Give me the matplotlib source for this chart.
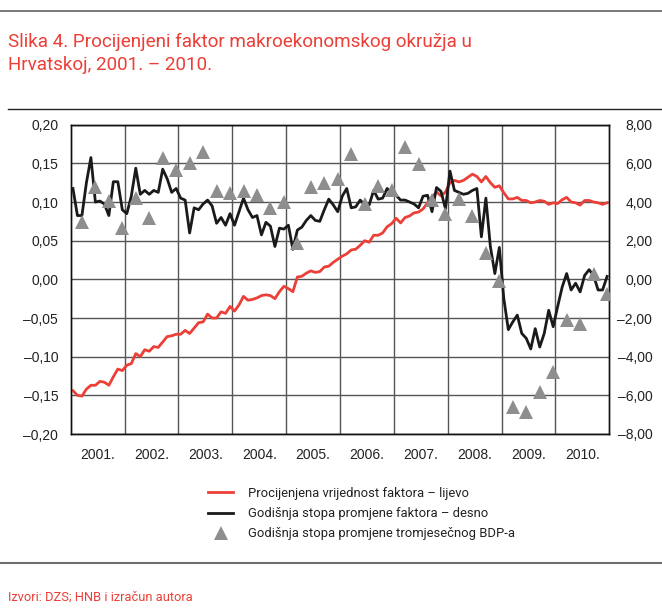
import numpy as np
import matplotlib
matplotlib.use("Agg")
import matplotlib.pyplot as plt
from matplotlib.lines import Line2D

# ---------------- data ----------------
years = list(range(2001, 2011))
year_labels = [f"{y}." for y in years]

# estimated factor value (left axis), monthly 2001-2010
factor_level = [
    -0.144, -0.150, -0.151, -0.142, -0.137, -0.137, -0.132, -0.133, -0.137, -0.126, -0.116, -0.118,
    -0.111, -0.109, -0.096, -0.100, -0.091, -0.093, -0.087, -0.088, -0.081, -0.074, -0.073, -0.071,
    -0.071, -0.066, -0.070, -0.063, -0.056, -0.055, -0.045, -0.050, -0.050, -0.042, -0.044, -0.035,
    -0.041, -0.033, -0.022, -0.027, -0.026, -0.024, -0.021, -0.020, -0.021, -0.025, -0.016, -0.009,
    -0.012, -0.016, 0.003, 0.004, 0.008, 0.011, 0.009, 0.010, 0.016, 0.017, 0.022, 0.026,
    0.030, 0.033, 0.038, 0.039, 0.044, 0.050, 0.048, 0.057, 0.057, 0.060, 0.068, 0.072,
    0.079, 0.073, 0.080, 0.082, 0.086, 0.087, 0.091, 0.099, 0.106, 0.113, 0.108, 0.113,
    0.125, 0.128, 0.126, 0.128, 0.132, 0.136, 0.133, 0.126, 0.133, 0.125, 0.119, 0.121,
    0.112, 0.104, 0.104, 0.106, 0.102, 0.102, 0.099, 0.100, 0.102, 0.101, 0.097, 0.099,
    0.098, 0.103, 0.106, 0.100, 0.099, 0.096, 0.102, 0.102, 0.100, 0.099, 0.097, 0.099,
]

# annual rate of change of the factor (right axis), monthly
factor_growth = [
    4.7, 3.3, 3.3, 5.0, 6.3, 4.0, 4.05, 3.9, 3.3, 5.05, 5.05, 3.6,
    3.4, 4.3, 5.75, 4.4, 4.6, 4.4, 4.6, 4.5, 5.7, 5.2, 4.5, 4.7,
    4.2, 4.1, 2.4, 3.7, 3.6, 3.9, 4.1, 3.8, 2.9, 3.2, 2.8, 3.4,
    2.8, 3.5, 4.2, 3.6, 3.2, 3.3, 2.3, 2.95, 2.75, 1.7, 2.65, 2.6,
    2.8, 1.55, 2.55, 2.7, 3.05, 3.3, 3.05, 3.0, 3.6, 4.15, 3.85, 3.5,
    4.3, 4.7, 3.7, 3.75, 4.1, 3.85, 3.85, 4.6, 4.15, 4.2, 4.7, 4.45,
    4.35, 4.1, 4.1, 4.0, 3.9, 3.7, 4.3, 4.35, 3.5, 4.75, 4.55, 3.65,
    5.6, 4.6, 4.5, 4.4, 4.45, 4.6, 4.7, 2.2, 4.2, 1.7, 0.3, 1.65,
    -1.0, -2.6, -2.2, -1.85, -2.8, -3.05, -3.6, -2.55, -3.5, -2.8, -1.6, -2.45,
    -1.4, -0.4, 0.3, -0.55, -0.2, -0.65, 0.2, 0.5, 0.2, -0.55, -0.55, 0.15,
]

# annual rate of change of quarterly GDP (right axis), quarterly
gdp_growth = [
    2.95, 4.78, 4.05, 2.67,
    4.22, 3.19, 6.29, 5.67,
    6.02, 6.57, 4.57, 4.45,
    4.57, 4.36, 3.70, 3.98,
    1.86, 4.78, 4.98, 5.17,
    6.48, 3.88, 4.84, 4.60,
    6.83, 5.95, 4.12, 3.36,
    4.14, 3.26, 1.36, -0.07,
    -6.62, -6.86, -5.83, -4.79,
    -2.12, -2.33, 0.26, -0.78,
]

legend_labels = [
    "Procijenjena vrijednost faktora – lijevo",
    "Godišnja stopa promjene faktora – desno",
    "Godišnja stopa promjene tromjesečnog BDP-a",
]
title_lines = ["Slika 4. Procijenjeni faktor makroekonomskog okružja u",
               "Hrvatskoj, 2001. – 2010."]
source_text = "Izvori: DZS; HNB i izračun autora"

# ---------------- style ----------------
RED = "#ec3f37"
BLACK = "#1a1a1a"
GREY_TRI = "#8e8e8e"
GRID = "#555555"
TEXT_FONT = ["Roboto", "DejaVu Sans"]
TICK_FONT = ["Liberation Sans", "DejaVu Sans"]
plt.rcParams["font.family"] = TICK_FONT

W, H = 662, 608
fig = plt.figure(figsize=(W / 100, H / 100), dpi=100)

def fx(px):
    return px / W

def fy(py):
    return 1 - py / H

def fmt(v):
    v = round(float(v), 2)
    if abs(v) < 1e-9:
        v = 0.0
    return f"{v:.2f}".replace(".", ",").replace("-", "–")

ax = fig.add_axes([fx(70.7), fy(434), fx(609.3 - 70.7), (434 - 124.7) / H])
ax2 = ax.twinx()

months_x = 2001 + (np.arange(len(factor_level)) + 0.5) / 12
quarters_x = 2001 + (np.arange(len(gdp_growth)) * 3 + 2.5) / 12

ax.plot(months_x, factor_level, color=RED, lw=2.0, solid_joinstyle="round", zorder=3)
ax2.plot(months_x, factor_growth, color=BLACK, lw=2.0, solid_joinstyle="round", zorder=3)
ax2.plot(quarters_x, gdp_growth, linestyle="none", marker="^", ms=9.5,
         color=GREY_TRI, markeredgewidth=0, zorder=4)

ax.set_xlim(2001, 2011)
ax.set_ylim(-0.20, 0.20)
ax2.set_ylim(-8, 8)

left_ticks = np.linspace(-0.20, 0.20, 9)
right_ticks = np.linspace(-8, 8, 9)
ax.set_yticks(left_ticks)
ax.set_yticklabels([fmt(v) for v in left_ticks])
ax2.set_yticks(right_ticks)
ax2.set_yticklabels([fmt(v) for v in right_ticks])

ax.set_xticks(range(2002, 2011))
ax.set_xticklabels([])
ax.set_xticks([y + 0.5 for y in years], minor=True)
ax.set_xticklabels(year_labels, minor=True)

ax.grid(True, which="major", axis="both", color=GRID, lw=1.0)
ax.set_axisbelow(True)

ax.tick_params(axis="x", which="both", length=0, labelsize=10, pad=10, colors="#222222")
ax.tick_params(axis="y", length=0, labelsize=10, pad=9, colors="#222222")
ax2.tick_params(axis="y", length=0, labelsize=10, pad=31, colors="#222222")
for lab in ax2.get_yticklabels():
    lab.set_horizontalalignment("right")

for a in (ax, ax2):
    for s in a.spines.values():
        s.set_color("#111111")
        s.set_linewidth(1.0)

# ---------------- text: title, source ----------------
renderer = fig.canvas.get_renderer()

def fit_text(x, y, s, target_w, start_fs, **kw):
    t = fig.text(x, y, s, fontsize=start_fs, family=TEXT_FONT, **kw)
    w = t.get_window_extent(renderer).width
    t.set_fontsize(start_fs * target_w / w)
    return t

t1 = fit_text(fx(8), fy(47), title_lines[0], 467, 16, color=RED, va="baseline", ha="left")
fig.text(fx(8), fy(70.5), title_lines[1], color=RED, fontsize=t1.get_fontsize(),
         family=TEXT_FONT, va="baseline", ha="left")
fit_text(fx(8), fy(601), source_text, 185, 10, color=RED, va="baseline", ha="left")

# ---------------- legend ----------------
probe = fig.text(0, 0, legend_labels[0], fontsize=10, family=TEXT_FONT)
leg_fs = 10 * 222 / probe.get_window_extent(renderer).width
probe.remove()

handles = [
    Line2D([], [], color=RED, lw=2.0),
    Line2D([], [], color=BLACK, lw=2.0),
    Line2D([], [], linestyle="none", marker="^", ms=9.5, color=GREY_TRI, markeredgewidth=0),
]
leg = fig.legend(handles, legend_labels, loc="upper left", bbox_to_anchor=(fx(208), fy(487)),
                 frameon=False, prop={"family": TEXT_FONT, "size": leg_fs},
                 handlelength=25 / (leg_fs * 100 / 72), handletextpad=15 / (leg_fs * 100 / 72),
                 labelspacing=0.55, borderaxespad=0, borderpad=0)
for txt in leg.get_texts():
    txt.set_color("#222222")

# ---------------- rules ----------------
fig.add_artist(Line2D([0, 1], [fy(11), fy(11)], transform=fig.transFigure, color="#6e6e6e", lw=1.3))
fig.add_artist(Line2D([fx(8), 1], [fy(109), fy(109)], transform=fig.transFigure, color="#222222", lw=1.0))
fig.add_artist(Line2D([0, 1], [fy(563), fy(563)], transform=fig.transFigure, color="#6e6e6e", lw=1.5))

fig.savefig("out.png", dpi=100)
